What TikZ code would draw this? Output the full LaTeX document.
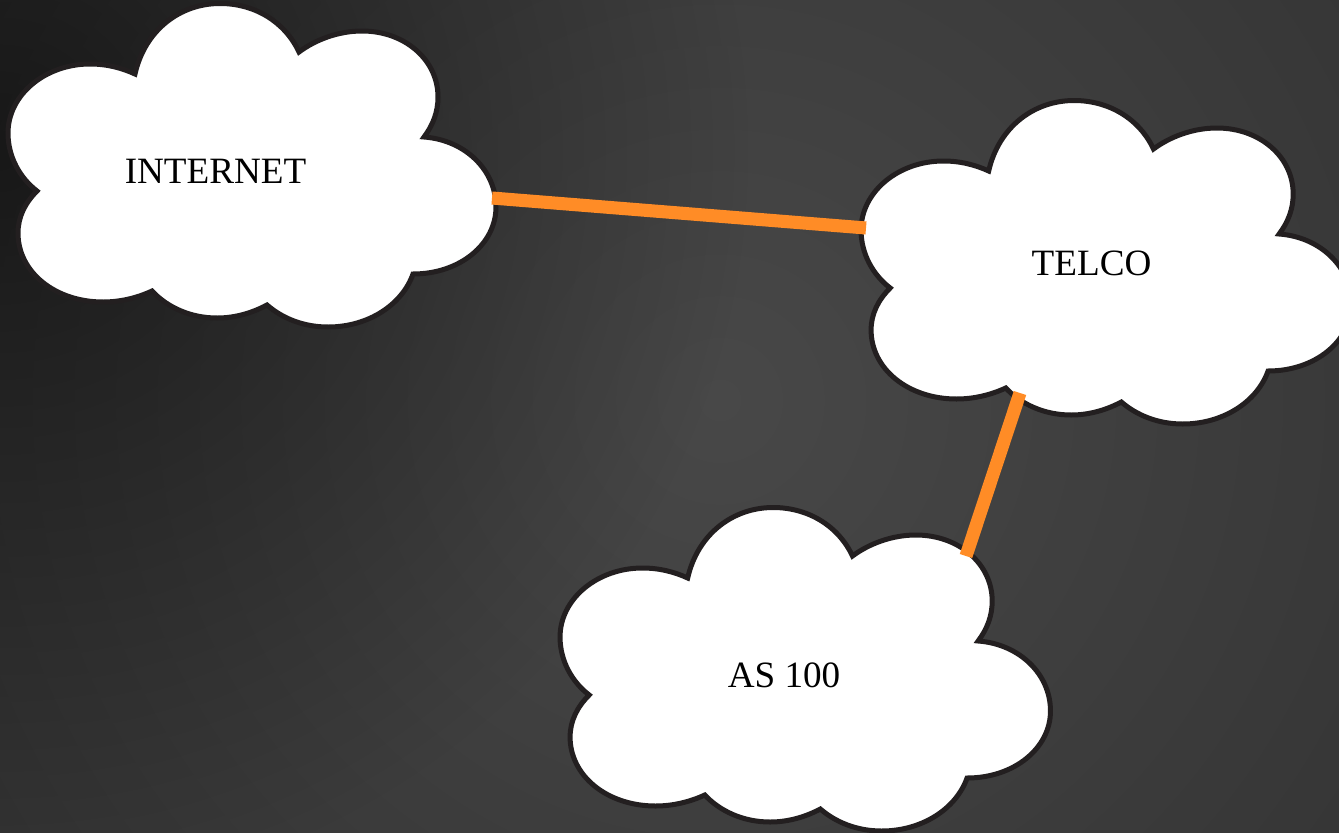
\documentclass[tikz,border=0pt]{standalone}
\usepackage{fontspec}
\setmainfont{Liberation Serif}
\usepackage{tikz}
\usetikzlibrary{fadings}
\definecolor{linkorange}{HTML}{FF8C26}
\definecolor{cloudedge}{HTML}{231F20}
\definecolor{bgcentre}{HTML}{484848}
\definecolor{bgouter}{HTML}{303030}
\tikzfading[name=darkspot, inner color=transparent!45, outer color=transparent!100]
\NewDocumentCommand{\cloudoutline}{}{
	(135,74)
	.. controls (145,30) and (180,3.5) .. (220,3.5)
	.. controls (255,3.5) and (285,22) .. (299,52)
	.. controls (315,40) and (338,31) .. (362,31)
	.. controls (405,31) and (438,60) .. (438,97)
	.. controls (438,112) and (433,125) .. (424,137)
	.. controls (465,140) and (496,170) .. (496,207)
	.. controls (496,244) and (460,274) .. (413,274)
	.. controls (402,305) and (368,327) .. (328,327)
	.. controls (303,327) and (282,318) .. (267,305)
	.. controls (252,313) and (235,318) .. (217,318)
	.. controls (190,318) and (167,307) .. (152,291)
	.. controls (137,298) and (120,302) .. (103,302)
	.. controls (55,302) and (18,272) .. (18,233)
	.. controls (18,217) and (25,203) .. (37,191)
	.. controls (20,178) and (8,157) .. (8,133)
	.. controls (8,95) and (45,64) .. (90,64)
	.. controls (107,64) and (122,68) .. (135,74) -- cycle
}
\tikzset{/NET/cloud/.style={
	draw=cloudedge, fill=white, line width=3.75pt, line join=miter
}}
\tikzset{/NET/link/.style={
	draw=linkorange, line width=9.8pt
}}
\tikzset{/NET/label/.style={
	font=\fontsize{27.85}{30}\selectfont, text=black, inner sep=0, outer sep=0
}}

\begin{document}
\begin{tikzpicture}[x=0.75pt, y=-0.75pt]
	\useasboundingbox (0,0) rectangle (1339,832);
	\clip (0,0) rectangle (1339,832);
	\shade[inner color=bgcentre, outer color=bgouter] (720,400) circle (1000);
	\fill[black, path fading=darkspot] (0,150) circle (750);
	\path[/NET/cloud] \cloudoutline;
	\path[/NET/cloud, shift={(853,97)}, xscale=1.005] \cloudoutline;
	\path[/NET/cloud, shift={(552,504)}, xscale=1.005] \cloudoutline;
	\path (215.5,171) node[/NET/label] (internet) {INTERNET};
	\path (1091.5,263) node[/NET/label] (telco) {TELCO};
	\path (784,675) node[/NET/label] (as100) {AS 100};
	\coordinate (internetport) at (492,198);
	\coordinate (telcowest) at (866,228);
	\coordinate (telcosouth) at (1020,393);
	\coordinate (asport) at (966,556);
	\draw[/NET/link] (internetport) -- (telcowest);
	\draw[/NET/link] (telcosouth) -- (asport);
\end{tikzpicture}
\end{document}
